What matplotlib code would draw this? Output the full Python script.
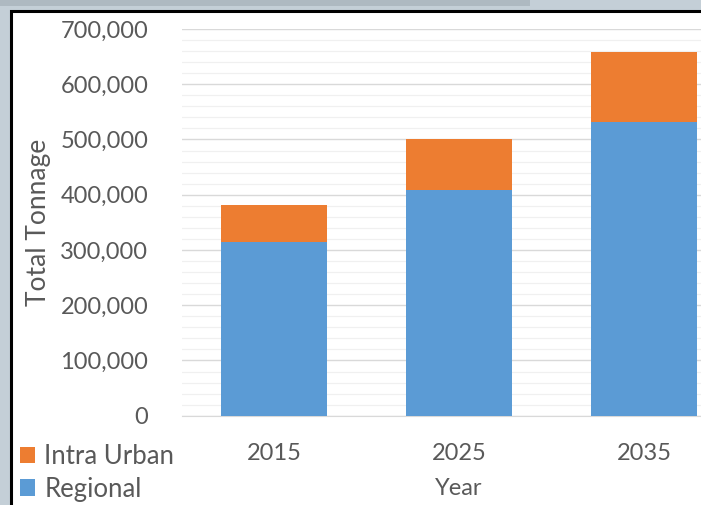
import matplotlib.pyplot as plt
from matplotlib.patches import Rectangle
from matplotlib.ticker import FuncFormatter, MultipleLocator

years = ["2015", "2025", "2035"]
regional = [314000, 408000, 532000]
intra_urban = [67000, 92000, 127000]

blue = "#5b9bd5"
orange = "#ed7d31"
grey_text = "#595959"

plt.rcParams["font.family"] = ["Lato", "DejaVu Sans"]

fig = plt.figure(figsize=(7.01, 5.05), dpi=100, facecolor="#c4cfd7")
W, H = 701, 505

# screenshot frame: shadow strip, black border, white panel
fig.patches.append(Rectangle((0, (H - 6) / H), 530 / W, 6 / H, transform=fig.transFigure,
                             facecolor="#aeb9c1", edgecolor="none", zorder=-2))
fig.patches.append(Rectangle((10.5 / W, -0.05), 1.0, (H - 10.5) / H + 0.05, transform=fig.transFigure,
                             facecolor="white", edgecolor="black", linewidth=2.2, zorder=-1))

ax = fig.add_axes([181.5 / W, 89.3 / H, 555 / W, 386.7 / H])
ax.set_facecolor("none")

x = range(len(years))
h_reg = ax.bar(x, regional, width=0.575, color=blue, zorder=3)
h_int = ax.bar(x, intra_urban, width=0.575, bottom=regional, color=orange, zorder=3)

ax.set_xlim(-0.5, 2.5)
ax.set_ylim(0, 700000)
ax.yaxis.set_major_locator(MultipleLocator(100000))
ax.yaxis.set_minor_locator(MultipleLocator(20000))
ax.yaxis.set_major_formatter(FuncFormatter(lambda v, p: f"{int(v):,}"))
ax.grid(axis="y", which="major", color="#d9d9d9", linewidth=1.0, zorder=0)
ax.grid(axis="y", which="minor", color="#f0f0f0", linewidth=0.9, zorder=0)

ax.set_xticks(list(x))
ax.set_xticklabels(years)
for s in ["top", "right", "left"]:
    ax.spines[s].set_visible(False)
ax.spines["bottom"].set_color("#d9d9d9")
ax.tick_params(axis="both", which="both", length=0, colors=grey_text, labelsize=17)
ax.tick_params(axis="y", pad=24)
ax.tick_params(axis="x", pad=20)

ax.set_ylabel("Total Tonnage", color=grey_text, fontsize=19)
ax.yaxis.set_label_coords(-(181.5 - 51) / 555, 0.5)
ax.set_xlabel("Year", color=grey_text, fontsize=17)
ax.xaxis.set_label_coords((458.5 - 181.5) / 555, -(478 - 415.7) / 386.7)

leg = fig.legend([h_int, h_reg], ["Intra Urban", "Regional"], loc="upper left",
                 bbox_to_anchor=(20 / W, (H - 444) / H), frameon=False,
                 fontsize=18.5, handlelength=0.6, handleheight=0.6, handletextpad=0.35,
                 labelspacing=0.3, borderaxespad=0, borderpad=0)
for t in leg.get_texts():
    t.set_color(grey_text)

fig.savefig("out.png", dpi=100, facecolor=fig.get_facecolor())
